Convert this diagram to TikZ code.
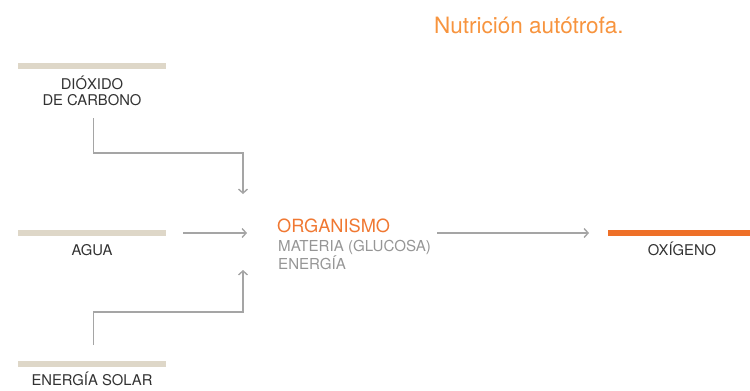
\documentclass[tikz,border=0pt]{standalone}
\usepackage{fontspec}
\setmainfont{TeX Gyre Heros}
\usetikzlibrary{arrows.meta}
\definecolor{barbeige}{RGB}{222,215,200}
\definecolor{barorange}{RGB}{238,112,40}
\definecolor{titleorange}{RGB}{247,148,62}
\definecolor{orgorange}{RGB}{240,120,50}
\definecolor{linegray}{RGB}{165,165,165}
\definecolor{subgray}{RGB}{150,150,150}
\definecolor{labeldark}{RGB}{50,50,50}
\tikzset{
  bar/.style={line width=6pt},
  lbl/.style={anchor=base, inner sep=0pt, text=labeldark, font=\fontsize{14.8}{16}\selectfont},
  conn/.style={draw=linegray, line width=1.4pt, -{Straight Barb[length=4pt,width=9pt,line width=1.4pt]}},
  sub/.style={anchor=base west, inner sep=0pt, text=subgray, font=\fontsize{15.1}{16}\selectfont},
}
\begin{document}
\begin{tikzpicture}[x=1pt,y=-1pt]
\useasboundingbox (0,0) rectangle (750,391);
% title
\node[anchor=base west, inner sep=0pt, text=titleorange, font=\fontsize{22.5}{24}\selectfont] (title) at (434,33) {Nutrición autótrofa.};
% bars
\draw[bar, draw=barbeige] (18,65.5) -- (166,65.5);
\draw[bar, draw=barbeige] (18,232.5) -- (166,232.5);
\draw[bar, draw=barbeige] (18,364) -- (166,364);
\draw[bar, draw=barorange] (608,232.5) -- (750,232.5);
% labels
\node[lbl] (co2a) at (92,89) {DIÓXIDO};
\node[lbl] (co2b) at (92,105) {DE CARBONO};
\node[lbl] (agua) at (92,255) {AGUA};
\node[lbl] (solar) at (92,385) {ENERGÍA SOLAR};
\node[lbl] (oxi) at (682,255) {OXÍGENO};
% organism
\node[anchor=base west, inner sep=0pt, text=orgorange, font=\fontsize{18.2}{20}\selectfont] (org) at (277,232) {ORGANISMO};
\node[sub] (mat) at (278,251) {MATERIA (GLUCOSA)};
\node[sub] (ene) at (278,269) {ENERGÍA};
% connector coordinates
\coordinate (c1s) at (93.5,118);
\coordinate (c1b) at (93.5,153);
\coordinate (c1t) at (243,194);
\coordinate (c2s) at (93.5,345);
\coordinate (c2b) at (93.5,312);
\coordinate (c2t) at (243,270);
\coordinate (aguaS) at (183,233);
\coordinate (aguaT) at (247,233);
\coordinate (oxS) at (437,233);
\coordinate (oxT) at (589,233);
% connectors
\draw[conn] (c1s) -- (c1b) -| (c1t);
\draw[conn] (c2s) -- (c2b) -| (c2t);
\draw[conn] (aguaS) -- (aguaT);
\draw[conn] (oxS) -- (oxT);
\end{tikzpicture}
\end{document}
